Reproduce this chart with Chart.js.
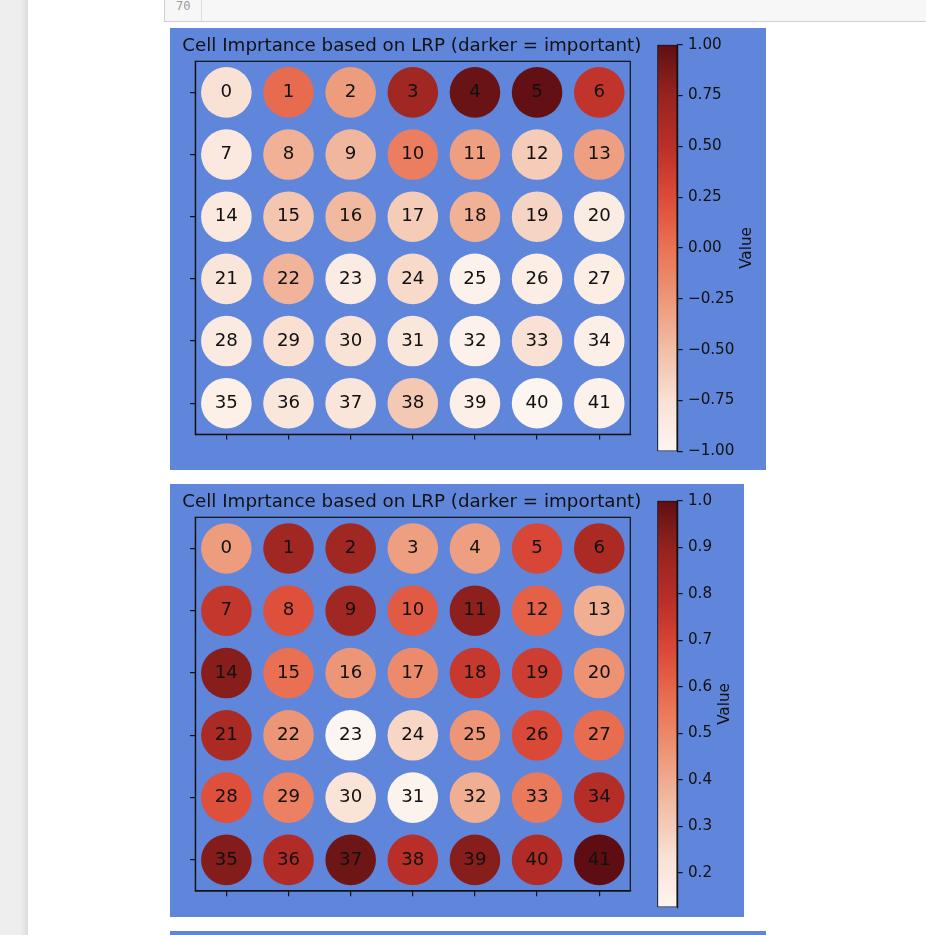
<!DOCTYPE html>
<html>
<head>
<meta charset="utf-8">
<script src="https://cdn.jsdelivr.net/npm/chart.js@4.4.1/dist/chart.umd.min.js"></script>
<style>
  html, body { margin: 0; padding: 0; }
  body { width: 926px; height: 935px; overflow: hidden; background: #ffffff; position: relative; font-family: "DejaVu Sans", sans-serif; }
  #side { position: absolute; left: 0; top: 0; width: 28px; height: 935px; background: linear-gradient(to right, #eeeeee 0px, #eeeeee 20px, #dcdcdc 28px); }
  #cell { position: absolute; left: 164px; top: -12px; width: 790px; height: 34px; box-sizing: border-box; background: #f7f7f7; border: 1px solid #cfcfcf; }
  #cellsep { position: absolute; left: 36px; top: 0; width: 1px; height: 100%; background: #dddddd; }
  #prompt { position: absolute; left: 176px; top: 0px; font: 12px/12px "DejaVu Sans Mono", monospace; color: #9a9a9a; }
  .fig { position: absolute; background: #5f86db; }
  .fig canvas { position: absolute; }
</style>
</head>
<body>
<div id="side"></div>
<div id="cell"><div id="cellsep"></div></div>
<div id="prompt">70</div>

<div class="fig" id="fig1" style="left:170px; top:28px; width:596px; height:442px;">
  <canvas id="grid1" width="486" height="442" style="left:0; top:0;"></canvas>
  <canvas id="cbar1" width="126" height="442" style="left:470px; top:0;"></canvas>
</div>
<div class="fig" id="fig2" style="left:170px; top:484px; width:574px; height:433px;">
  <canvas id="grid2" width="486" height="433" style="left:0; top:0;"></canvas>
  <canvas id="cbar2" width="104" height="433" style="left:470px; top:0;"></canvas>
</div>
<div class="fig" id="fig3" style="left:170px; top:931px; width:596px; height:10px;"></div>

<script>
// ---------------- data ----------------
const titleText = 'Cell Imprtance based on LRP (darker = important)';
const colorbarTitle = 'Value';

// grid positions (columns / rows of the 7 x 6 cell layout)
const gridCols = [0, 1, 2, 3, 4, 5, 6];
const gridRows = [0, 1, 2, 3, 4, 5];

// cell labels (row-major)
const cellLabels = [
   0,  1,  2,  3,  4,  5,  6,
   7,  8,  9, 10, 11, 12, 13,
  14, 15, 16, 17, 18, 19, 20,
  21, 22, 23, 24, 25, 26, 27,
  28, 29, 30, 31, 32, 33, 34,
  35, 36, 37, 38, 39, 40, 41
];

// figure 1: importance values (colour scale fixed to -1 .. 1)
const importance1 = [
  -0.76,  0.05, -0.28,  0.68,  0.95,  0.98,  0.45,
  -0.85, -0.42, -0.46, -0.08, -0.30, -0.60, -0.30,
  -0.84, -0.56, -0.47, -0.60, -0.42, -0.66, -0.88,
  -0.80, -0.44, -0.88, -0.70, -0.95, -0.90, -0.90,
  -0.86, -0.74, -0.77, -0.82, -0.95, -0.76, -0.92,
  -0.93, -0.82, -0.80, -0.58, -0.92, -0.99, -0.95
];
const range1 = [-1, 1];
const cbTicks1 = [-1, -0.75, -0.5, -0.25, 0, 0.25, 0.5, 0.75, 1];
const cbLabels1 = ['\u22121.00', '\u22120.75', '\u22120.50', '\u22120.25', '0.00', '0.25', '0.50', '0.75', '1.00'];

// figure 2: importance values (colour scale = data min .. max)
const importance2 = [
  0.44, 0.86, 0.86, 0.43, 0.43, 0.69, 0.83,
  0.75, 0.66, 0.86, 0.63, 0.91, 0.61, 0.39,
  0.92, 0.57, 0.46, 0.49, 0.74, 0.72, 0.47,
  0.83, 0.46, 0.126, 0.27, 0.46, 0.68, 0.58,
  0.66, 0.52, 0.22, 0.14, 0.39, 0.54, 0.80,
  0.93, 0.81, 0.97, 0.79, 0.92, 0.81, 1.00
];
const range2 = [Math.min(...importance2), Math.max(...importance2)];
const cbTicks2 = [0.2, 0.3, 0.4, 0.5, 0.6, 0.7, 0.8, 0.9, 1.0];
const cbLabels2 = ['0.2', '0.3', '0.4', '0.5', '0.6', '0.7', '0.8', '0.9', '1.0'];

// ---------------- colormap (matplotlib "Reds", shown as on a P3 screen) ----------------
const REDS = [[255,245,240],[254,224,210],[252,187,161],[252,146,114],[251,106,74],[239,59,44],[203,24,29],[165,15,21],[103,0,13]];
function toScreen(rgb) {
  const lin = rgb.map(c => { c /= 255; return c <= 0.04045 ? c / 12.92 : Math.pow((c + 0.055) / 1.055, 2.4); });
  const M = [[0.8225, 0.1774, 0], [0.0332, 0.9669, 0], [0.0171, 0.0724, 0.9108]];
  return M.map(r => {
    let v = r[0] * lin[0] + r[1] * lin[1] + r[2] * lin[2];
    v = Math.max(0, Math.min(1, v));
    const e = v <= 0.0031308 ? 12.92 * v : 1.055 * Math.pow(v, 1 / 2.4) - 0.055;
    return Math.round(e * 255);
  });
}
function redsColor(t) {
  t = Math.min(1, Math.max(0, t));
  const s = t * (REDS.length - 1);
  const i = Math.min(REDS.length - 2, Math.floor(s));
  const f = s - i;
  const a = REDS[i], b = REDS[i + 1];
  const c = toScreen(a.map((v, k) => v + (b[k] - v) * f));
  return 'rgb(' + c.join(',') + ')';
}

// ---------------- styles ----------------
Chart.defaults.font.family = '"DejaVu Sans", sans-serif';
const INK = '#111111';
const TICK_LEN = 5.3;
const TITLE_SIZE = 18.3;
const PLOT_LEFT = 23.3;   // plot frame left edge inside the grid canvas
const PLOT_RIGHT = 460.3; // plot frame right edge inside the grid canvas
const GRID_W = 486;

const cellLabelPlugin = {
  id: 'cellLabelPlugin',
  afterDatasetsDraw(chart) {
    const meta = chart.getDatasetMeta(0);
    const ds = chart.data.datasets[0].data;
    const ctx = chart.ctx;
    ctx.save();
    ctx.font = '18.2px "DejaVu Sans"';
    ctx.fillStyle = INK;
    ctx.textAlign = 'center';
    ctx.textBaseline = 'middle';
    meta.data.forEach((pt, i) => ctx.fillText(String(ds[i].label), pt.x, pt.y));
    ctx.restore();
  }
};

const framePlugin = {
  id: 'framePlugin',
  afterDraw(chart) {
    const a = chart.chartArea;
    const ctx = chart.ctx;
    ctx.save();
    ctx.strokeStyle = INK;
    ctx.lineWidth = 1.2;
    ctx.strokeRect(a.left, a.top, a.right - a.left, a.bottom - a.top);
    ctx.restore();
  }
};

const cbLabelPlugin = {
  id: 'cbLabelPlugin',
  afterDraw(chart, args, opts) {
    const s = chart.scales.y;
    const ctx = chart.ctx;
    ctx.save();
    ctx.font = '15.2px "DejaVu Sans"';
    const maxW = Math.max(...s.ticks.map(t => ctx.measureText(String(t.label)).width));
    const x = s.left + TICK_LEN + 5.3 + maxW + 17;
    const y = (chart.chartArea.top + chart.chartArea.bottom) / 2;
    ctx.translate(x, y);
    ctx.rotate(-Math.PI / 2);
    ctx.textAlign = 'center';
    ctx.textBaseline = 'alphabetic';
    ctx.fillStyle = INK;
    ctx.fillText(opts.text, 0, 0);
    ctx.restore();
  }
};

function gridAxis(values, extra) {
  return Object.assign({
    type: 'linear',
    afterBuildTicks: s => { s.ticks = values.map(v => ({ value: v })); },
    ticks: { display: false },
    grid: { drawOnChartArea: false, drawTicks: true, tickLength: TICK_LEN, color: INK, lineWidth: 1.2 },
    border: { display: true, color: INK, width: 1.2 }
  }, extra);
}

function makeGrid(canvasId, values, range, plotBottom, height) {
  const [vmin, vmax] = range;
  const points = values.map((v, i) => ({
    x: gridCols[i % gridCols.length],
    y: gridRows[Math.floor(i / gridCols.length)],
    label: cellLabels[i],
    v: v
  }));
  // title box spans [0, 2*centre] so the title is centred over the plot without being squeezed
  const centre = (PLOT_LEFT + PLOT_RIGHT) / 2;
  const padRight = GRID_W - 2 * centre;
  const rightSpace = GRID_W - padRight - PLOT_RIGHT;
  return new Chart(document.getElementById(canvasId), {
    type: 'scatter',
    data: {
      datasets: [{
        data: points,
        backgroundColor: points.map(p => redsColor((p.v - vmin) / (vmax - vmin))),
        borderWidth: 0,
        pointRadius: 25.3,
        pointHoverRadius: 25.3,
        pointBorderWidth: 0
      }]
    },
    options: {
      responsive: false,
      animation: false,
      events: [],
      layout: { padding: { left: 0, right: padRight, top: 0, bottom: height - plotBottom - TICK_LEN } },
      plugins: {
        legend: { display: false },
        tooltip: { enabled: false },
        title: {
          display: true,
          text: titleText,
          fullSize: true,
          color: INK,
          font: { size: TITLE_SIZE, weight: 'normal', lineHeight: 1.2 },
          padding: { top: 18.1 - TITLE_SIZE * 0.6, bottom: 33.3 - 18.1 - TITLE_SIZE * 0.6 }
        }
      },
      scales: {
        x: gridAxis(gridCols, { min: -0.5, max: 6.5 }),
        y: gridAxis(gridRows, { min: -0.5, max: 5.5, reverse: true,
                                afterFit: s => { s.width = PLOT_LEFT; } }),
        yRight: {
          type: 'linear', position: 'right', min: 0, max: 1,
          ticks: { display: false },
          grid: { display: false, drawTicks: false },
          border: { display: false },
          afterFit: s => { s.width = rightSpace; }
        }
      }
    },
    plugins: [cellLabelPlugin, framePlugin]
  });
}

function makeColorbar(canvasId, range, ticks, labels, width, height, axisW) {
  const [vmin, vmax] = range;
  return new Chart(document.getElementById(canvasId), {
    type: 'bar',
    data: {
      labels: [colorbarTitle],
      datasets: [{
        data: [[vmin, vmax]],
        backgroundColor: (c) => {
          const chart = c.chart;
          if (!chart.chartArea) return redsColor(0);
          const ys = chart.scales.y;
          const g = chart.ctx.createLinearGradient(0, ys.getPixelForValue(vmin), 0, ys.getPixelForValue(vmax));
          const n = 32;
          for (let k = 0; k <= n; k++) g.addColorStop(k / n, redsColor(k / n));
          return g;
        },
        borderColor: INK,
        borderWidth: 1.2,
        borderSkipped: false,
        barPercentage: 1,
        categoryPercentage: 1
      }]
    },
    options: {
      responsive: false,
      animation: false,
      events: [],
      layout: { padding: { left: 17.3, right: width - 37.3 - axisW, top: 16.7, bottom: height - 423.3 } },
      plugins: {
        legend: { display: false },
        tooltip: { enabled: false },
        cbLabelPlugin: { text: colorbarTitle }
      },
      scales: {
        x: { display: false },
        y: {
          position: 'right',
          min: vmin,
          max: vmax,
          afterBuildTicks: s => { s.ticks = ticks.map(v => ({ value: v })); },
          afterFit: s => { s.width = axisW; s.paddingTop = 0; s.paddingBottom = 0; },
          ticks: {
            autoSkip: false,
            padding: 5.3,
            color: INK,
            font: { size: 15.2 },
            callback: (v, i) => labels[i]
          },
          grid: { drawOnChartArea: false, drawTicks: true, tickLength: TICK_LEN, color: INK, lineWidth: 1.2 },
          border: { display: true, color: INK, width: 1.2 }
        }
      }
    },
    plugins: [cbLabelPlugin]
  });
}

makeGrid('grid1', importance1, range1, 406.3, 442);
makeColorbar('cbar1', range1, cbTicks1, cbLabels1, 126, 442, 80);
makeGrid('grid2', importance2, range2, 407, 433);
makeColorbar('cbar2', range2, cbTicks2, cbLabels2, 104, 433, 60);
</script>
</body>
</html>
